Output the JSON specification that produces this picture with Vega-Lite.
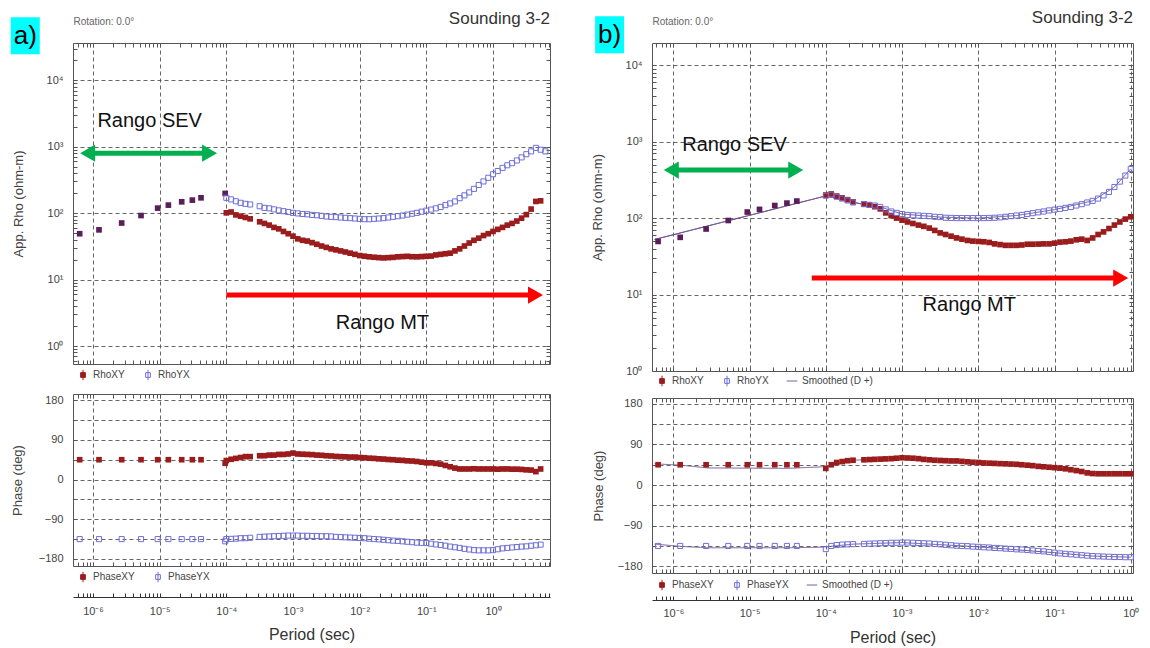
{
"$schema": "https://vega.github.io/schema/vega-lite/v6.json",
"background": "white",
"padding": {"left": 10, "top": 8, "right": 5, "bottom": 0},
"config": {
 "font": "Liberation Sans",
 "view": {"stroke": "#555", "strokeWidth": 1},
 "axis": {"domain": false, "tickSize": -4, "tickColor": "#555", "gridColor": "#555", "gridDash": [4, 3], "gridWidth": 0.9, "labelFontSize": 11, "labelColor": "#444", "titleFontWeight": "normal", "titleColor": "#444", "labelOverlap": false, "labelFlush": false, "labelBound": false},
 "legend": {"labelFontSize": 10, "labelColor": "#444", "symbolStrokeWidth": 1, "labelOffset": 4, "symbolSize": 110},
 "title": {"fontWeight": "normal"}
},
"datasets": {
 "sevA": [
  {"t": 6.31e-7, "r": 49, "px": 45, "py": -135},
  {"t": 1.23e-6, "r": 56, "px": 45, "py": -135},
  {"t": 2.69e-6, "r": 71, "px": 45, "py": -135},
  {"t": 5.25e-6, "r": 92, "px": 45, "py": -135},
  {"t": 9.33e-6, "r": 119, "px": 45, "py": -135},
  {"t": 1.35e-5, "r": 132, "px": 45, "py": -135},
  {"t": 2.14e-5, "r": 148, "px": 45, "py": -135},
  {"t": 3.09e-5, "r": 157, "px": 45, "py": -135},
  {"t": 4.17e-5, "r": 170, "px": 45, "py": -135},
  {"t": 9.6e-5, "r": 198, "px": 37, "py": -140}
 ],
 "sevB": [
  {"t": 6.31e-7, "r": 49.5, "px": 45, "py": -135},
  {"t": 1.23e-6, "r": 56, "px": 45, "py": -135},
  {"t": 2.69e-6, "r": 72, "px": 45, "py": -135},
  {"t": 5.25e-6, "r": 93, "px": 45, "py": -135},
  {"t": 9.33e-6, "r": 120, "px": 45, "py": -135},
  {"t": 1.35e-5, "r": 130, "px": 45, "py": -135},
  {"t": 2.14e-5, "r": 146, "px": 45, "py": -135},
  {"t": 3.09e-5, "r": 157, "px": 45, "py": -135},
  {"t": 4.17e-5, "r": 167, "px": 45, "py": -135}
 ],
 "rhoA": [
  {"t": 1e-4, "xy": 101, "yx": 170}, {"t": 1.179e-4, "xy": 104, "yx": 161}, {"t": 1.389e-4, "xy": 94, "yx": 151}, {"t": 1.638e-4, "xy": 90, "yx": 143}, {"t": 1.931e-4, "xy": 86, "yx": 138}, {"t": 2.276e-4, "xy": 82, "yx": 135},
  {"t": 3.162e-4, "xy": 74, "yx": 127}, {"t": 3.728e-4, "xy": 70, "yx": 120}, {"t": 4.394e-4, "xy": 66, "yx": 118}, {"t": 5.179e-4, "xy": 61, "yx": 114}, {"t": 6.105e-4, "xy": 58, "yx": 110}, {"t": 7.197e-4, "xy": 53, "yx": 107}, {"t": 8.483e-4, "xy": 49, "yx": 104},
  {"t": 1e-3, "xy": 45, "yx": 101}, {"t": 1.179e-3, "xy": 41, "yx": 99}, {"t": 1.389e-3, "xy": 39, "yx": 97}, {"t": 1.638e-3, "xy": 38, "yx": 96}, {"t": 1.931e-3, "xy": 36, "yx": 94}, {"t": 2.276e-3, "xy": 34, "yx": 93}, {"t": 2.683e-3, "xy": 32, "yx": 91}, {"t": 3.162e-3, "xy": 30.5, "yx": 89}, {"t": 3.728e-3, "xy": 29, "yx": 88}, {"t": 4.394e-3, "xy": 28, "yx": 87}, {"t": 5.179e-3, "xy": 27, "yx": 86}, {"t": 6.105e-3, "xy": 26, "yx": 85}, {"t": 7.197e-3, "xy": 25, "yx": 84}, {"t": 8.483e-3, "xy": 24, "yx": 83},
  {"t": 0.01, "xy": 23, "yx": 82}, {"t": 0.01179, "xy": 22.5, "yx": 81}, {"t": 0.01389, "xy": 22, "yx": 81}, {"t": 0.01638, "xy": 21.7, "yx": 82}, {"t": 0.01931, "xy": 21.4, "yx": 83}, {"t": 0.02276, "xy": 21.2, "yx": 84}, {"t": 0.02683, "xy": 21.4, "yx": 86}, {"t": 0.03162, "xy": 21.6, "yx": 88}, {"t": 0.03728, "xy": 22, "yx": 90}, {"t": 0.04394, "xy": 22.2, "yx": 92}, {"t": 0.05179, "xy": 22.4, "yx": 95}, {"t": 0.06105, "xy": 22.1, "yx": 98}, {"t": 0.07197, "xy": 22, "yx": 101}, {"t": 0.08483, "xy": 22.2, "yx": 105},
  {"t": 0.1, "xy": 22.4, "yx": 109}, {"t": 0.1179, "xy": 22.6, "yx": 113}, {"t": 0.1389, "xy": 23.5, "yx": 118}, {"t": 0.1638, "xy": 24, "yx": 124}, {"t": 0.1931, "xy": 24.5, "yx": 132}, {"t": 0.2276, "xy": 25, "yx": 140}, {"t": 0.2683, "xy": 27, "yx": 150}, {"t": 0.3162, "xy": 29, "yx": 168}, {"t": 0.3728, "xy": 32, "yx": 185}, {"t": 0.4394, "xy": 35.5, "yx": 205}, {"t": 0.5179, "xy": 39, "yx": 232}, {"t": 0.6105, "xy": 42, "yx": 265}, {"t": 0.7197, "xy": 46, "yx": 300}, {"t": 0.8483, "xy": 49, "yx": 340},
  {"t": 1, "xy": 53, "yx": 385}, {"t": 1.179, "xy": 57, "yx": 430}, {"t": 1.389, "xy": 61, "yx": 480}, {"t": 1.638, "xy": 66, "yx": 525}, {"t": 1.931, "xy": 70, "yx": 565}, {"t": 2.276, "xy": 76, "yx": 620}, {"t": 2.683, "xy": 84, "yx": 690}, {"t": 3.162, "xy": 95, "yx": 770}, {"t": 3.728, "xy": 115, "yx": 850}, {"t": 4.394, "xy": 150, "yx": 960}, {"t": 5.179, "xy": 153, "yx": 900}, {"t": 6.105, "xy": null, "yx": 850}
 ],
 "phA": [
  {"t": 1e-4, "xy": 43, "yx": -135}, {"t": 1.179e-4, "xy": 46, "yx": -134.5}, {"t": 1.389e-4, "xy": 48, "yx": -134}, {"t": 1.638e-4, "xy": 50, "yx": -133}, {"t": 1.931e-4, "xy": 52, "yx": -133}, {"t": 2.276e-4, "xy": 52, "yx": -132},
  {"t": 3.162e-4, "xy": 54, "yx": -130}, {"t": 3.728e-4, "xy": 54, "yx": -129.5}, {"t": 4.394e-4, "xy": 55.5, "yx": -129}, {"t": 5.179e-4, "xy": 55.5, "yx": -128.5}, {"t": 6.105e-4, "xy": 57, "yx": -128}, {"t": 7.197e-4, "xy": 57, "yx": -127.5}, {"t": 8.483e-4, "xy": 58, "yx": -127},
  {"t": 1e-3, "xy": 60, "yx": -127}, {"t": 1.179e-3, "xy": 58, "yx": -127}, {"t": 1.389e-3, "xy": 57.5, "yx": -127.5}, {"t": 1.638e-3, "xy": 57, "yx": -127.5}, {"t": 1.931e-3, "xy": 56.5, "yx": -128}, {"t": 2.276e-3, "xy": 55.5, "yx": -128}, {"t": 2.683e-3, "xy": 55, "yx": -128.5}, {"t": 3.162e-3, "xy": 54, "yx": -128.5}, {"t": 3.728e-3, "xy": 53.5, "yx": -129}, {"t": 4.394e-3, "xy": 52.5, "yx": -130}, {"t": 5.179e-3, "xy": 52, "yx": -130.5}, {"t": 6.105e-3, "xy": 51.5, "yx": -131}, {"t": 7.197e-3, "xy": 51, "yx": -131.5}, {"t": 8.483e-3, "xy": 51, "yx": -132},
  {"t": 0.01, "xy": 50, "yx": -132.5}, {"t": 0.01179, "xy": 49.5, "yx": -133}, {"t": 0.01389, "xy": 48.5, "yx": -134}, {"t": 0.01638, "xy": 48, "yx": -135}, {"t": 0.01931, "xy": 47, "yx": -135.5}, {"t": 0.02276, "xy": 46.5, "yx": -136.5}, {"t": 0.02683, "xy": 45.5, "yx": -137.5}, {"t": 0.03162, "xy": 45, "yx": -138.5}, {"t": 0.03728, "xy": 44, "yx": -139}, {"t": 0.04394, "xy": 43.5, "yx": -140}, {"t": 0.05179, "xy": 42.5, "yx": -141}, {"t": 0.06105, "xy": 42, "yx": -142}, {"t": 0.07197, "xy": 41, "yx": -143}, {"t": 0.08483, "xy": 39.5, "yx": -143.5},
  {"t": 0.1, "xy": 38, "yx": -144}, {"t": 0.1179, "xy": 38, "yx": -145.5}, {"t": 0.1389, "xy": 36.5, "yx": -147}, {"t": 0.1638, "xy": 35, "yx": -148.5}, {"t": 0.1931, "xy": 32, "yx": -150}, {"t": 0.2276, "xy": 29, "yx": -152}, {"t": 0.2683, "xy": 26, "yx": -153.5}, {"t": 0.3162, "xy": 24, "yx": -155}, {"t": 0.3728, "xy": 24, "yx": -157}, {"t": 0.4394, "xy": 24, "yx": -158.5}, {"t": 0.5179, "xy": 24.5, "yx": -160}, {"t": 0.6105, "xy": 24, "yx": -160.5}, {"t": 0.7197, "xy": 24, "yx": -160.5}, {"t": 0.8483, "xy": 24, "yx": -160.5},
  {"t": 1, "xy": 24, "yx": -160}, {"t": 1.179, "xy": 23.5, "yx": -158}, {"t": 1.389, "xy": 24, "yx": -156}, {"t": 1.638, "xy": 24, "yx": -155}, {"t": 1.931, "xy": 23.5, "yx": -154}, {"t": 2.276, "xy": 23.5, "yx": -153}, {"t": 2.683, "xy": 23, "yx": -152}, {"t": 3.162, "xy": 22, "yx": -151.5}, {"t": 3.728, "xy": 21.5, "yx": -150}, {"t": 4.394, "xy": 18, "yx": -149}, {"t": 5.179, "xy": 24, "yx": -147.5}
 ],
 "rhoB": [
  {"t": 1e-4, "xy": 200, "yx": 196}, {"t": 1.179e-4, "xy": 207, "yx": 203}, {"t": 1.389e-4, "xy": 194, "yx": 190}, {"t": 1.638e-4, "xy": 184, "yx": 180}, {"t": 1.931e-4, "xy": 174, "yx": 170}, {"t": 2.276e-4, "xy": 163, "yx": 160},
  {"t": 3.162e-4, "xy": 153, "yx": 152}, {"t": 3.728e-4, "xy": 148, "yx": 149}, {"t": 4.394e-4, "xy": 141, "yx": 146}, {"t": 5.179e-4, "xy": 132, "yx": 140}, {"t": 6.105e-4, "xy": 117, "yx": 130}, {"t": 7.197e-4, "xy": 108, "yx": 122}, {"t": 8.483e-4, "xy": 100, "yx": 117},
  {"t": 1e-3, "xy": 94, "yx": 113}, {"t": 1.179e-3, "xy": 89, "yx": 110}, {"t": 1.389e-3, "xy": 85, "yx": 109}, {"t": 1.638e-3, "xy": 81, "yx": 108}, {"t": 1.931e-3, "xy": 78, "yx": 107}, {"t": 2.276e-3, "xy": 74, "yx": 106}, {"t": 2.683e-3, "xy": 69, "yx": 104}, {"t": 3.162e-3, "xy": 64, "yx": 103}, {"t": 3.728e-3, "xy": 61, "yx": 101}, {"t": 4.394e-3, "xy": 58, "yx": 100.5}, {"t": 5.179e-3, "xy": 55, "yx": 100}, {"t": 6.105e-3, "xy": 53, "yx": 100}, {"t": 7.197e-3, "xy": 51, "yx": 100}, {"t": 8.483e-3, "xy": 50, "yx": 100},
  {"t": 0.01, "xy": 49.5, "yx": 100}, {"t": 0.01179, "xy": 49, "yx": 100}, {"t": 0.01389, "xy": 48, "yx": 100.5}, {"t": 0.01638, "xy": 46, "yx": 101}, {"t": 0.01931, "xy": 45, "yx": 102}, {"t": 0.02276, "xy": 44, "yx": 104}, {"t": 0.02683, "xy": 44, "yx": 106}, {"t": 0.03162, "xy": 44, "yx": 108}, {"t": 0.03728, "xy": 44.5, "yx": 110}, {"t": 0.04394, "xy": 45.5, "yx": 113}, {"t": 0.05179, "xy": 45.5, "yx": 116}, {"t": 0.06105, "xy": 45.7, "yx": 119}, {"t": 0.07197, "xy": 46, "yx": 122}, {"t": 0.08483, "xy": 46, "yx": 126},
  {"t": 0.1, "xy": 47, "yx": 129}, {"t": 0.1179, "xy": 48.5, "yx": 132}, {"t": 0.1389, "xy": 49, "yx": 136}, {"t": 0.1638, "xy": 50, "yx": 140}, {"t": 0.1931, "xy": 52, "yx": 146}, {"t": 0.2276, "xy": 53, "yx": 152}, {"t": 0.2683, "xy": 51, "yx": 160}, {"t": 0.3162, "xy": 55, "yx": 168}, {"t": 0.3728, "xy": 61, "yx": 180}, {"t": 0.4394, "xy": 66, "yx": 198}, {"t": 0.5179, "xy": 73, "yx": 220}, {"t": 0.6105, "xy": 81, "yx": 255}, {"t": 0.7197, "xy": 89, "yx": 300}, {"t": 0.8483, "xy": 97, "yx": 360},
  {"t": 1, "xy": 104, "yx": 440}
 ],
 "phB": [
  {"t": 1e-4, "xy": 37, "yx": -142}, {"t": 1.179e-4, "xy": 45, "yx": -135}, {"t": 1.389e-4, "xy": 50, "yx": -133}, {"t": 1.638e-4, "xy": 52, "yx": -132}, {"t": 1.931e-4, "xy": 54, "yx": -131.5}, {"t": 2.276e-4, "xy": 55, "yx": -131},
  {"t": 3.162e-4, "xy": 56, "yx": -130.5}, {"t": 3.728e-4, "xy": 56.5, "yx": -130}, {"t": 4.394e-4, "xy": 57, "yx": -129.5}, {"t": 5.179e-4, "xy": 57.5, "yx": -129}, {"t": 6.105e-4, "xy": 58, "yx": -128.5}, {"t": 7.197e-4, "xy": 58.5, "yx": -128}, {"t": 8.483e-4, "xy": 59.5, "yx": -128},
  {"t": 1e-3, "xy": 60.5, "yx": -127.5}, {"t": 1.179e-3, "xy": 60, "yx": -127.5}, {"t": 1.389e-3, "xy": 59.5, "yx": -128}, {"t": 1.638e-3, "xy": 58.5, "yx": -128.5}, {"t": 1.931e-3, "xy": 57, "yx": -129}, {"t": 2.276e-3, "xy": 56, "yx": -129.5}, {"t": 2.683e-3, "xy": 55, "yx": -130.5}, {"t": 3.162e-3, "xy": 54.5, "yx": -131.5}, {"t": 3.728e-3, "xy": 54, "yx": -132.5}, {"t": 4.394e-3, "xy": 53.5, "yx": -133.5}, {"t": 5.179e-3, "xy": 53.5, "yx": -134.5}, {"t": 6.105e-3, "xy": 52.5, "yx": -135}, {"t": 7.197e-3, "xy": 51.5, "yx": -135.5}, {"t": 8.483e-3, "xy": 50.5, "yx": -136.5},
  {"t": 0.01, "xy": 50, "yx": -137}, {"t": 0.01179, "xy": 49, "yx": -138}, {"t": 0.01389, "xy": 48.5, "yx": -138.5}, {"t": 0.01638, "xy": 48, "yx": -139.5}, {"t": 0.01931, "xy": 47.5, "yx": -140}, {"t": 0.02276, "xy": 47, "yx": -141}, {"t": 0.02683, "xy": 46.5, "yx": -141.5}, {"t": 0.03162, "xy": 46, "yx": -142.5}, {"t": 0.03728, "xy": 45, "yx": -143}, {"t": 0.04394, "xy": 44, "yx": -144}, {"t": 0.05179, "xy": 43, "yx": -145}, {"t": 0.06105, "xy": 41.5, "yx": -146}, {"t": 0.07197, "xy": 40.5, "yx": -147}, {"t": 0.08483, "xy": 39.5, "yx": -148.5},
  {"t": 0.1, "xy": 38.5, "yx": -150}, {"t": 0.1179, "xy": 37.5, "yx": -151.5}, {"t": 0.1389, "xy": 36, "yx": -152.5}, {"t": 0.1638, "xy": 34, "yx": -153.5}, {"t": 0.1931, "xy": 32, "yx": -154.5}, {"t": 0.2276, "xy": 30, "yx": -155.5}, {"t": 0.2683, "xy": 27, "yx": -156.5}, {"t": 0.3162, "xy": 25.5, "yx": -157.5}, {"t": 0.3728, "xy": 25, "yx": -158}, {"t": 0.4394, "xy": 25, "yx": -158.5}, {"t": 0.5179, "xy": 25, "yx": -159}, {"t": 0.6105, "xy": 25, "yx": -159.5}, {"t": 0.7197, "xy": 25, "yx": -159.5}, {"t": 0.8483, "xy": 25, "yx": -160},
  {"t": 1, "xy": 25, "yx": -160}
 ],
 "smRB": [
  {"t": 5.68e-7, "xy": 52.5, "yx": 52.5}, {"t": 1e-4, "xy": 195, "yx": 195}, {"t": 2.276e-4, "xy": 163, "yx": 160}, {"t": 5.179e-4, "xy": 132, "yx": 140}, {"t": 1e-3, "xy": 94, "yx": 113}, {"t": 3.162e-3, "xy": 64, "yx": 103}, {"t": 0.01, "xy": 49.5, "yx": 100}, {"t": 0.03162, "xy": 44, "yx": 108}, {"t": 0.1, "xy": 47, "yx": 129}, {"t": 0.3162, "xy": 54, "yx": 168}, {"t": 0.6105, "xy": 81, "yx": 255}, {"t": 1, "xy": 104, "yx": 440}
 ],
 "smPB": [
  {"t": 5.68e-7, "xy": 47, "yx": -131}, {"t": 1.26e-6, "xy": 44, "yx": -136}, {"t": 2.82e-6, "xy": 38, "yx": -139}, {"t": 3.16e-5, "xy": 37, "yx": -139}, {"t": 7.94e-5, "xy": 40, "yx": -138}, {"t": 1e-4, "xy": 41, "yx": -137}, {"t": 2.276e-4, "xy": 55, "yx": -131}, {"t": 1e-3, "xy": 60, "yx": -127.5}, {"t": 0.01, "xy": 50, "yx": -137}, {"t": 0.1, "xy": 38.5, "yx": -150}, {"t": 0.3162, "xy": 25.5, "yx": -157.5}, {"t": 1, "xy": 25, "yx": -160}
 ],
 "annA": [
  {"lab": "Rango SEV", "t1": 8.3e-7, "t2": 5.6e-5, "r": 798, "tx": 7.08e-6, "ty": 2415},
  {"lab": "Rango MT", "t1": 1.0e-4, "t2": 4.34, "r": 5.85, "tx": 0.0219, "ty": 2.24}
 ],
 "annB": [
  {"lab": "Rango SEV", "t1": 9.4e-7, "t2": 4.03e-5, "r": 424, "tx": 6.35e-6, "ty": 900},
  {"lab": "Rango MT", "t1": 6.55e-5, "t2": 0.738, "r": 16.4, "tx": 7.62e-3, "ty": 7.36}
 ],
 "tagA": [{"lab": "a)", "x1": 5.83e-8, "x2": 1.59e-7, "y1": 88500, "y2": 24600, "tx": 9.64e-8, "ty": 46670}],
 "tagB": [{"lab": "b)", "x1": 9.42e-8, "x2": 2.26e-7, "y1": 43650, "y2": 14350, "tx": 1.46e-7, "ty": 25060}]
},
"hconcat": [
 {
  "vconcat": [
   {
    "width": 477, "height": 321,
    "title": {"text": "Sounding 3-2", "anchor": "end", "fontSize": 17, "color": "#333", "offset": -11, "frame": "group"},
    "resolve": {"axis": {"x": "independent", "y": "independent"}},
    "layer": [
     {"data": {"name": "sevA"}, "mark": {"type": "point", "shape": "square", "filled": true, "size": 32, "opacity": 1},
      "encoding": {"x": {"field": "t", "type": "quantitative", "axis": null}, "y": {"field": "r", "type": "quantitative", "axis": null}, "fill": {"datum": "SEV"}}},
     {"data": {"name": "rhoA"}, "mark": {"type": "point", "shape": "square", "filled": true, "size": 32, "opacity": 1},
      "encoding": {
       "x": {"field": "t", "type": "quantitative", "scale": {"type": "log", "domain": [5.01e-7, 7.16], "nice": false},
        "axis": {"orient": "bottom", "values": [6e-7,7e-7,8e-7,9e-7,1e-6,2e-6,3e-6,4e-6,5e-6,6e-6,7e-6,8e-6,9e-6,1e-5,2e-5,3e-5,4e-5,5e-5,6e-5,7e-5,8e-5,9e-5,1e-4,2e-4,3e-4,4e-4,5e-4,6e-4,7e-4,8e-4,9e-4,0.001,0.002,0.003,0.004,0.005,0.006,0.007,0.008,0.009,0.01,0.02,0.03,0.04,0.05,0.06,0.07,0.08,0.09,0.1,0.2,0.3,0.4,0.5,0.6,0.7,0.8,0.9,1,2,3,4,5,6,7], "labels": false, "grid": true, "gridOpacity": {"condition": {"test": "abs(log(datum.value)/LN10-round(log(datum.value)/LN10))<0.001", "value": 1}, "value": 0}, "title": null}},
       "y": {"field": "xy", "type": "quantitative", "scale": {"type": "log", "domain": [0.537, 36300], "nice": false},
        "axis": {"orient": "left", "values": [0.6,0.7,0.8,0.9,1,2,3,4,5,6,7,8,9,10,20,30,40,50,60,70,80,90,100,200,300,400,500,600,700,800,900,1000,2000,3000,4000,5000,6000,7000,8000,9000,10000,20000,30000], "labelExpr": "abs(log(datum.value)/LN10-round(log(datum.value)/LN10))<0.001 ? '10' + ['⁻⁶','⁻⁵','⁻⁴','⁻³','⁻²','⁻¹','⁰','¹','²','³','⁴'][round(log(datum.value)/LN10)+6] : ''", "grid": true, "gridOpacity": {"condition": {"test": "abs(log(datum.value)/LN10-round(log(datum.value)/LN10))<0.001", "value": 1}, "value": 0}, "labelPadding": 14, "title": "App. Rho (ohm-m)", "titleFontSize": 13, "titlePadding": 21}},
       "fill": {"datum": "RhoXY", "scale": {"domain": ["RhoXY", "SEV"], "range": ["#9b1c1c", "#5a1e5a"]},
        "legend": {"orient": "none", "legendX": 4, "legendY": 326, "title": null, "values": ["RhoXY"], "symbolType": "M-0.45,-0.45H0.45V0.45H-0.45Z M0,-1V1", "symbolStrokeColor": "#9b1c1c"}}
      }},
     {"data": {"name": "rhoA"}, "mark": {"type": "point", "shape": "square", "filled": false, "size": 26, "strokeWidth": 1, "opacity": 1},
      "encoding": {
       "x": {"field": "t", "type": "quantitative", "axis": {"orient": "top", "values": [6e-7,7e-7,8e-7,9e-7,1e-6,2e-6,3e-6,4e-6,5e-6,6e-6,7e-6,8e-6,9e-6,1e-5,2e-5,3e-5,4e-5,5e-5,6e-5,7e-5,8e-5,9e-5,1e-4,2e-4,3e-4,4e-4,5e-4,6e-4,7e-4,8e-4,9e-4,0.001,0.002,0.003,0.004,0.005,0.006,0.007,0.008,0.009,0.01,0.02,0.03,0.04,0.05,0.06,0.07,0.08,0.09,0.1,0.2,0.3,0.4,0.5,0.6,0.7,0.8,0.9,1,2,3,4,5,6,7], "labels": false, "grid": false, "title": "Rotation: 0.0°", "titleAnchor": "start", "titleAlign": "left", "titleFontSize": 10, "titleColor": "#666", "titlePadding": 16}},
       "y": {"field": "yx", "type": "quantitative", "axis": {"orient": "right", "values": [0.6,0.7,0.8,0.9,1,2,3,4,5,6,7,8,9,10,20,30,40,50,60,70,80,90,100,200,300,400,500,600,700,800,900,1000,2000,3000,4000,5000,6000,7000,8000,9000,10000,20000,30000], "labels": false, "grid": false, "title": null}},
       "stroke": {"datum": "RhoYX", "scale": {"domain": ["RhoYX"], "range": ["#6f6fd8"]},
        "legend": {"orient": "none", "legendX": 69, "legendY": 326, "title": null, "values": ["RhoYX"], "symbolType": "M-0.45,-0.45H0.45V0.45H-0.45Z M0,-1V1"}}}},
     {"data": {"name": "annA"}, "transform": [{"filter": "datum.lab === 'Rango SEV'"}], "mark": {"type": "rule", "color": "#00b050", "strokeWidth": 5},
      "encoding": {"x": {"field": "t1", "type": "quantitative", "axis": null}, "x2": {"field": "t2"}, "y": {"field": "r", "type": "quantitative", "axis": null}}},
     {"data": {"name": "annA"}, "transform": [{"filter": "datum.lab === 'Rango MT'"}], "mark": {"type": "rule", "color": "#ff0000", "strokeWidth": 5},
      "encoding": {"x": {"field": "t1", "type": "quantitative", "axis": null}, "x2": {"field": "t2"}, "y": {"field": "r", "type": "quantitative", "axis": null}}},
     {"data": {"name": "annA"}, "transform": [{"filter": "datum.lab === 'Rango SEV'"}], "mark": {"type": "point", "shape": "triangle-left", "filled": true, "size": 300, "color": "#00b050", "opacity": 1},
      "encoding": {"x": {"field": "t1", "type": "quantitative", "axis": null}, "y": {"field": "r", "type": "quantitative", "axis": null}}},
     {"data": {"name": "annA"}, "transform": [{"filter": "datum.lab === 'Rango SEV'"}], "mark": {"type": "point", "shape": "triangle-right", "filled": true, "size": 300, "color": "#00b050", "opacity": 1},
      "encoding": {"x": {"field": "t2", "type": "quantitative", "axis": null}, "y": {"field": "r", "type": "quantitative", "axis": null}}},
     {"data": {"name": "annA"}, "transform": [{"filter": "datum.lab === 'Rango MT'"}], "mark": {"type": "point", "shape": "triangle-right", "filled": true, "size": 300, "color": "#ff0000", "opacity": 1},
      "encoding": {"x": {"field": "t2", "type": "quantitative", "axis": null}, "y": {"field": "r", "type": "quantitative", "axis": null}}},
     {"data": {"name": "annA"}, "mark": {"type": "text", "fontSize": 20, "color": "#111"},
      "encoding": {"x": {"field": "tx", "type": "quantitative", "axis": null}, "y": {"field": "ty", "type": "quantitative", "axis": null}, "text": {"field": "lab"}}},
     {"data": {"name": "tagA"}, "mark": {"type": "rect", "color": "#00ffff"},
      "encoding": {"x": {"field": "x1", "type": "quantitative", "axis": null}, "x2": {"field": "x2"}, "y": {"field": "y1", "type": "quantitative", "axis": null}, "y2": {"field": "y2"}}},
     {"data": {"name": "tagA"}, "mark": {"type": "text", "fontSize": 26, "color": "#000"},
      "encoding": {"x": {"field": "tx", "type": "quantitative", "axis": null}, "y": {"field": "ty", "type": "quantitative", "axis": null}, "text": {"field": "lab"}}}
    ]
   },
   {
    "width": 477, "height": 172,
    "resolve": {"axis": {"x": "independent", "y": "independent"}},
    "layer": [
     {"data": {"name": "phA"}, "mark": {"type": "point", "shape": "square", "filled": true, "size": 32, "opacity": 1},
      "encoding": {
       "x": {"field": "t", "type": "quantitative", "scale": {"type": "log", "domain": [5.01e-7, 7.16], "nice": false},
        "axis": {"orient": "bottom", "offset": 31, "values": [6e-7,7e-7,8e-7,9e-7,1e-6,2e-6,3e-6,4e-6,5e-6,6e-6,7e-6,8e-6,9e-6,1e-5,2e-5,3e-5,4e-5,5e-5,6e-5,7e-5,8e-5,9e-5,1e-4,2e-4,3e-4,4e-4,5e-4,6e-4,7e-4,8e-4,9e-4,0.001,0.002,0.003,0.004,0.005,0.006,0.007,0.008,0.009,0.01,0.02,0.03,0.04,0.05,0.06,0.07,0.08,0.09,0.1,0.2,0.3,0.4,0.5,0.6,0.7,0.8,0.9,1,2,3,4,5,6,7], "labelExpr": "abs(log(datum.value)/LN10-round(log(datum.value)/LN10))<0.001 ? '10' + ['⁻⁶','⁻⁵','⁻⁴','⁻³','⁻²','⁻¹','⁰','¹','²','³','⁴'][round(log(datum.value)/LN10)+6] : ''", "domain": true, "domainColor": "#333", "tickColor": "#333", "grid": false, "labelPadding": 12, "title": "Period (sec)", "titleFontSize": 16, "titleColor": "#333", "titlePadding": 10}},
       "y": {"field": "xy", "type": "quantitative", "scale": {"domain": [-196, 194], "nice": false, "zero": false},
        "axis": {"orient": "left", "values": [-180,-135,-90,-45,0,45,90,135,180], "labelExpr": "datum.value % 90 === 0 ? datum.label : ''", "grid": true, "labelPadding": 14, "title": "Phase (deg)", "titleFontSize": 13, "titlePadding": 14}},
       "fill": {"datum": "PhaseXY", "scale": {"domain": ["PhaseXY"], "range": ["#9b1c1c"]},
        "legend": {"orient": "none", "legendX": 4, "legendY": 177, "title": null, "values": ["PhaseXY"], "symbolType": "M-0.45,-0.45H0.45V0.45H-0.45Z M0,-1V1", "symbolStrokeColor": "#9b1c1c"}}
      }},
     {"data": {"name": "phA"}, "mark": {"type": "point", "shape": "square", "filled": false, "size": 26, "strokeWidth": 1, "opacity": 1},
      "encoding": {
       "x": {"field": "t", "type": "quantitative", "axis": {"orient": "top", "values": [6e-7,7e-7,8e-7,9e-7,1e-6,2e-6,3e-6,4e-6,5e-6,6e-6,7e-6,8e-6,9e-6,1e-5,2e-5,3e-5,4e-5,5e-5,6e-5,7e-5,8e-5,9e-5,1e-4,2e-4,3e-4,4e-4,5e-4,6e-4,7e-4,8e-4,9e-4,0.001,0.002,0.003,0.004,0.005,0.006,0.007,0.008,0.009,0.01,0.02,0.03,0.04,0.05,0.06,0.07,0.08,0.09,0.1,0.2,0.3,0.4,0.5,0.6,0.7,0.8,0.9,1,2,3,4,5,6,7], "labels": false, "grid": false, "title": null}},
       "y": {"field": "yx", "type": "quantitative", "axis": {"orient": "right", "values": [-180,-135,-90,-45,0,45,90,135,180], "labels": false, "grid": false, "title": null}},
       "stroke": {"datum": "PhaseYX", "scale": {"domain": ["PhaseYX"], "range": ["#6f6fd8"]},
        "legend": {"orient": "none", "legendX": 79, "legendY": 177, "title": null, "values": ["PhaseYX"], "symbolType": "M-0.45,-0.45H0.45V0.45H-0.45Z M0,-1V1"}}}},
     {"data": {"name": "sevA"}, "mark": {"type": "point", "shape": "square", "filled": true, "size": 32, "opacity": 1},
      "encoding": {
       "x": {"field": "t", "type": "quantitative", "axis": {"orient": "bottom", "values": [6e-7,7e-7,8e-7,9e-7,1e-6,2e-6,3e-6,4e-6,5e-6,6e-6,7e-6,8e-6,9e-6,1e-5,2e-5,3e-5,4e-5,5e-5,6e-5,7e-5,8e-5,9e-5,1e-4,2e-4,3e-4,4e-4,5e-4,6e-4,7e-4,8e-4,9e-4,0.001,0.002,0.003,0.004,0.005,0.006,0.007,0.008,0.009,0.01,0.02,0.03,0.04,0.05,0.06,0.07,0.08,0.09,0.1,0.2,0.3,0.4,0.5,0.6,0.7,0.8,0.9,1,2,3,4,5,6,7], "labels": false, "grid": true, "gridOpacity": {"condition": {"test": "abs(log(datum.value)/LN10-round(log(datum.value)/LN10))<0.001", "value": 1}, "value": 0}, "title": null}},
       "y": {"field": "px", "type": "quantitative", "axis": null},
       "fill": {"datum": "PhaseXY"}}},
     {"data": {"name": "sevA"}, "mark": {"type": "point", "shape": "square", "filled": false, "size": 26, "strokeWidth": 1, "opacity": 1},
      "encoding": {"x": {"field": "t", "type": "quantitative", "axis": null}, "y": {"field": "py", "type": "quantitative", "axis": null}, "stroke": {"datum": "PhaseYX"}}}
    ]
   }
  ],
  "spacing": 9,
  "resolve": {"scale": {"fill": "independent", "stroke": "independent", "strokeDash": "independent"}}
 },
 {
  "vconcat": [
   {
    "width": 481, "height": 328,
    "title": {"text": "Sounding 3-2", "anchor": "end", "fontSize": 17, "color": "#333", "offset": -11, "frame": "group"},
    "resolve": {"axis": {"x": "independent", "y": "independent"}},
    "layer": [
     {"data": {"name": "smRB"}, "mark": {"type": "line", "strokeWidth": 1, "color": "#70508f"},
      "encoding": {"x": {"field": "t", "type": "quantitative", "axis": null}, "y": {"field": "xy", "type": "quantitative", "axis": null},
       "strokeDash": {"datum": "Smoothed (D +)", "scale": {"domain": ["Smoothed (D +)"], "range": [[1, 0]]},
        "legend": {"orient": "none", "legendX": 134, "legendY": 332, "title": null, "values": ["Smoothed (D +)"], "symbolType": "stroke", "symbolStrokeColor": "#555"}}}},
     {"data": {"name": "smRB"}, "mark": {"type": "line", "strokeWidth": 1, "color": "#70508f"},
      "encoding": {"x": {"field": "t", "type": "quantitative", "axis": null}, "y": {"field": "yx", "type": "quantitative", "axis": null}, "strokeDash": {"datum": "Smoothed (D +)"}}},
     {"data": {"name": "sevB"}, "mark": {"type": "point", "shape": "square", "filled": true, "size": 32, "opacity": 1},
      "encoding": {"x": {"field": "t", "type": "quantitative", "axis": null}, "y": {"field": "r", "type": "quantitative", "axis": null}, "fill": {"datum": "SEV"}}},
     {"data": {"name": "rhoB"}, "mark": {"type": "point", "shape": "square", "filled": true, "size": 32, "opacity": 1},
      "encoding": {
       "x": {"field": "t", "type": "quantitative", "scale": {"type": "log", "domain": [5.25e-7, 1.07], "nice": false},
        "axis": {"orient": "bottom", "values": [6e-7,7e-7,8e-7,9e-7,1e-6,2e-6,3e-6,4e-6,5e-6,6e-6,7e-6,8e-6,9e-6,1e-5,2e-5,3e-5,4e-5,5e-5,6e-5,7e-5,8e-5,9e-5,1e-4,2e-4,3e-4,4e-4,5e-4,6e-4,7e-4,8e-4,9e-4,0.001,0.002,0.003,0.004,0.005,0.006,0.007,0.008,0.009,0.01,0.02,0.03,0.04,0.05,0.06,0.07,0.08,0.09,0.1,0.2,0.3,0.4,0.5,0.6,0.7,0.8,0.9,1], "labels": false, "grid": true, "gridOpacity": {"condition": {"test": "abs(log(datum.value)/LN10-round(log(datum.value)/LN10))<0.001", "value": 1}, "value": 0}, "title": null}},
       "y": {"field": "xy", "type": "quantitative", "scale": {"type": "log", "domain": [1, 19500], "nice": false},
        "axis": {"orient": "left", "values": [1,2,3,4,5,6,7,8,9,10,20,30,40,50,60,70,80,90,100,200,300,400,500,600,700,800,900,1000,2000,3000,4000,5000,6000,7000,8000,9000,10000], "labelExpr": "abs(log(datum.value)/LN10-round(log(datum.value)/LN10))<0.001 ? '10' + ['⁻⁶','⁻⁵','⁻⁴','⁻³','⁻²','⁻¹','⁰','¹','²','³','⁴'][round(log(datum.value)/LN10)+6] : ''", "grid": true, "gridOpacity": {"condition": {"test": "abs(log(datum.value)/LN10-round(log(datum.value)/LN10))<0.001", "value": 1}, "value": 0}, "labelPadding": 14, "title": "App. Rho (ohm-m)", "titleFontSize": 13, "titlePadding": 21}},
       "fill": {"datum": "RhoXY", "scale": {"domain": ["RhoXY", "SEV"], "range": ["#9b1c1c", "#5a1e5a"]},
        "legend": {"orient": "none", "legendX": 4, "legendY": 332, "title": null, "values": ["RhoXY"], "symbolType": "M-0.45,-0.45H0.45V0.45H-0.45Z M0,-1V1", "symbolStrokeColor": "#9b1c1c"}}
      }},
     {"data": {"name": "rhoB"}, "mark": {"type": "point", "shape": "square", "filled": false, "size": 26, "strokeWidth": 1, "opacity": 1},
      "encoding": {
       "x": {"field": "t", "type": "quantitative", "axis": {"orient": "top", "values": [6e-7,7e-7,8e-7,9e-7,1e-6,2e-6,3e-6,4e-6,5e-6,6e-6,7e-6,8e-6,9e-6,1e-5,2e-5,3e-5,4e-5,5e-5,6e-5,7e-5,8e-5,9e-5,1e-4,2e-4,3e-4,4e-4,5e-4,6e-4,7e-4,8e-4,9e-4,0.001,0.002,0.003,0.004,0.005,0.006,0.007,0.008,0.009,0.01,0.02,0.03,0.04,0.05,0.06,0.07,0.08,0.09,0.1,0.2,0.3,0.4,0.5,0.6,0.7,0.8,0.9,1], "labels": false, "grid": false, "title": "Rotation: 0.0°", "titleAnchor": "start", "titleAlign": "left", "titleFontSize": 10, "titleColor": "#666", "titlePadding": 16}},
       "y": {"field": "yx", "type": "quantitative", "axis": {"orient": "right", "values": [1,2,3,4,5,6,7,8,9,10,20,30,40,50,60,70,80,90,100,200,300,400,500,600,700,800,900,1000,2000,3000,4000,5000,6000,7000,8000,9000,10000], "labels": false, "grid": false, "title": null}},
       "stroke": {"datum": "RhoYX", "scale": {"domain": ["RhoYX"], "range": ["#6f6fd8"]},
        "legend": {"orient": "none", "legendX": 69, "legendY": 332, "title": null, "values": ["RhoYX"], "symbolType": "M-0.45,-0.45H0.45V0.45H-0.45Z M0,-1V1"}}}},
     {"data": {"name": "annB"}, "transform": [{"filter": "datum.lab === 'Rango SEV'"}], "mark": {"type": "rule", "color": "#00b050", "strokeWidth": 5},
      "encoding": {"x": {"field": "t1", "type": "quantitative", "axis": null}, "x2": {"field": "t2"}, "y": {"field": "r", "type": "quantitative", "axis": null}}},
     {"data": {"name": "annB"}, "transform": [{"filter": "datum.lab === 'Rango MT'"}], "mark": {"type": "rule", "color": "#ff0000", "strokeWidth": 5},
      "encoding": {"x": {"field": "t1", "type": "quantitative", "axis": null}, "x2": {"field": "t2"}, "y": {"field": "r", "type": "quantitative", "axis": null}}},
     {"data": {"name": "annB"}, "transform": [{"filter": "datum.lab === 'Rango SEV'"}], "mark": {"type": "point", "shape": "triangle-left", "filled": true, "size": 300, "color": "#00b050", "opacity": 1},
      "encoding": {"x": {"field": "t1", "type": "quantitative", "axis": null}, "y": {"field": "r", "type": "quantitative", "axis": null}}},
     {"data": {"name": "annB"}, "transform": [{"filter": "datum.lab === 'Rango SEV'"}], "mark": {"type": "point", "shape": "triangle-right", "filled": true, "size": 300, "color": "#00b050", "opacity": 1},
      "encoding": {"x": {"field": "t2", "type": "quantitative", "axis": null}, "y": {"field": "r", "type": "quantitative", "axis": null}}},
     {"data": {"name": "annB"}, "transform": [{"filter": "datum.lab === 'Rango MT'"}], "mark": {"type": "point", "shape": "triangle-right", "filled": true, "size": 300, "color": "#ff0000", "opacity": 1},
      "encoding": {"x": {"field": "t2", "type": "quantitative", "axis": null}, "y": {"field": "r", "type": "quantitative", "axis": null}}},
     {"data": {"name": "annB"}, "mark": {"type": "text", "fontSize": 20, "color": "#111"},
      "encoding": {"x": {"field": "tx", "type": "quantitative", "axis": null}, "y": {"field": "ty", "type": "quantitative", "axis": null}, "text": {"field": "lab"}}},
     {"data": {"name": "tagB"}, "mark": {"type": "rect", "color": "#00ffff"},
      "encoding": {"x": {"field": "x1", "type": "quantitative", "axis": null}, "x2": {"field": "x2"}, "y": {"field": "y1", "type": "quantitative", "axis": null}, "y2": {"field": "y2"}}},
     {"data": {"name": "tagB"}, "mark": {"type": "text", "fontSize": 26, "color": "#000"},
      "encoding": {"x": {"field": "tx", "type": "quantitative", "axis": null}, "y": {"field": "ty", "type": "quantitative", "axis": null}, "text": {"field": "lab"}}}
    ]
   },
   {
    "width": 481, "height": 175,
    "resolve": {"axis": {"x": "independent", "y": "independent"}},
    "layer": [
     {"data": {"name": "smPB"}, "mark": {"type": "line", "strokeWidth": 1, "color": "#70508f"},
      "encoding": {"x": {"field": "t", "type": "quantitative", "axis": null}, "y": {"field": "xy", "type": "quantitative", "axis": null},
       "strokeDash": {"datum": "Smoothed (D +)", "scale": {"domain": ["Smoothed (D +)"], "range": [[1, 0]]},
        "legend": {"orient": "none", "legendX": 154, "legendY": 181, "title": null, "values": ["Smoothed (D +)"], "symbolType": "stroke", "symbolStrokeColor": "#555"}}}},
     {"data": {"name": "smPB"}, "mark": {"type": "line", "strokeWidth": 1, "color": "#70508f"},
      "encoding": {"x": {"field": "t", "type": "quantitative", "axis": null}, "y": {"field": "yx", "type": "quantitative", "axis": null}, "strokeDash": {"datum": "Smoothed (D +)"}}},
     {"data": {"name": "phB"}, "mark": {"type": "point", "shape": "square", "filled": true, "size": 32, "opacity": 1},
      "encoding": {
       "x": {"field": "t", "type": "quantitative", "scale": {"type": "log", "domain": [5.25e-7, 1.07], "nice": false},
        "axis": {"orient": "bottom", "offset": 27, "values": [6e-7,7e-7,8e-7,9e-7,1e-6,2e-6,3e-6,4e-6,5e-6,6e-6,7e-6,8e-6,9e-6,1e-5,2e-5,3e-5,4e-5,5e-5,6e-5,7e-5,8e-5,9e-5,1e-4,2e-4,3e-4,4e-4,5e-4,6e-4,7e-4,8e-4,9e-4,0.001,0.002,0.003,0.004,0.005,0.006,0.007,0.008,0.009,0.01,0.02,0.03,0.04,0.05,0.06,0.07,0.08,0.09,0.1,0.2,0.3,0.4,0.5,0.6,0.7,0.8,0.9,1], "labelExpr": "abs(log(datum.value)/LN10-round(log(datum.value)/LN10))<0.001 ? '10' + ['⁻⁶','⁻⁵','⁻⁴','⁻³','⁻²','⁻¹','⁰','¹','²','³','⁴'][round(log(datum.value)/LN10)+6] : ''", "domain": true, "domainColor": "#333", "tickColor": "#333", "grid": false, "labelPadding": 11, "title": "Period (sec)", "titleFontSize": 16, "titleColor": "#333", "titlePadding": 11}},
       "y": {"field": "xy", "type": "quantitative", "scale": {"domain": [-195, 193], "nice": false, "zero": false},
        "axis": {"orient": "left", "values": [-180,-135,-90,-45,0,45,90,135,180], "labelExpr": "datum.value % 90 === 0 ? datum.label : ''", "grid": true, "labelPadding": 14, "title": "Phase (deg)", "titleFontSize": 13, "titlePadding": 12}},
       "fill": {"datum": "PhaseXY", "scale": {"domain": ["PhaseXY"], "range": ["#9b1c1c"]},
        "legend": {"orient": "none", "legendX": 4, "legendY": 181, "title": null, "values": ["PhaseXY"], "symbolType": "M-0.45,-0.45H0.45V0.45H-0.45Z M0,-1V1", "symbolStrokeColor": "#9b1c1c"}}
      }},
     {"data": {"name": "phB"}, "mark": {"type": "point", "shape": "square", "filled": false, "size": 26, "strokeWidth": 1, "opacity": 1},
      "encoding": {
       "x": {"field": "t", "type": "quantitative", "axis": {"orient": "top", "values": [6e-7,7e-7,8e-7,9e-7,1e-6,2e-6,3e-6,4e-6,5e-6,6e-6,7e-6,8e-6,9e-6,1e-5,2e-5,3e-5,4e-5,5e-5,6e-5,7e-5,8e-5,9e-5,1e-4,2e-4,3e-4,4e-4,5e-4,6e-4,7e-4,8e-4,9e-4,0.001,0.002,0.003,0.004,0.005,0.006,0.007,0.008,0.009,0.01,0.02,0.03,0.04,0.05,0.06,0.07,0.08,0.09,0.1,0.2,0.3,0.4,0.5,0.6,0.7,0.8,0.9,1], "labels": false, "grid": false, "title": null}},
       "y": {"field": "yx", "type": "quantitative", "axis": {"orient": "right", "values": [-180,-135,-90,-45,0,45,90,135,180], "labels": false, "grid": false, "title": null}},
       "stroke": {"datum": "PhaseYX", "scale": {"domain": ["PhaseYX"], "range": ["#6f6fd8"]},
        "legend": {"orient": "none", "legendX": 79, "legendY": 181, "title": null, "values": ["PhaseYX"], "symbolType": "M-0.45,-0.45H0.45V0.45H-0.45Z M0,-1V1"}}}},
     {"data": {"name": "sevB"}, "mark": {"type": "point", "shape": "square", "filled": true, "size": 32, "opacity": 1},
      "encoding": {
       "x": {"field": "t", "type": "quantitative", "axis": {"orient": "bottom", "values": [6e-7,7e-7,8e-7,9e-7,1e-6,2e-6,3e-6,4e-6,5e-6,6e-6,7e-6,8e-6,9e-6,1e-5,2e-5,3e-5,4e-5,5e-5,6e-5,7e-5,8e-5,9e-5,1e-4,2e-4,3e-4,4e-4,5e-4,6e-4,7e-4,8e-4,9e-4,0.001,0.002,0.003,0.004,0.005,0.006,0.007,0.008,0.009,0.01,0.02,0.03,0.04,0.05,0.06,0.07,0.08,0.09,0.1,0.2,0.3,0.4,0.5,0.6,0.7,0.8,0.9,1], "labels": false, "grid": true, "gridOpacity": {"condition": {"test": "abs(log(datum.value)/LN10-round(log(datum.value)/LN10))<0.001", "value": 1}, "value": 0}, "title": null}},
       "y": {"field": "px", "type": "quantitative", "axis": null},
       "fill": {"datum": "PhaseXY"}}},
     {"data": {"name": "sevB"}, "mark": {"type": "point", "shape": "square", "filled": false, "size": 26, "strokeWidth": 1, "opacity": 1},
      "encoding": {"x": {"field": "t", "type": "quantitative", "axis": null}, "y": {"field": "py", "type": "quantitative", "axis": null}, "stroke": {"datum": "PhaseYX"}}}
    ]
   }
  ],
  "spacing": 7,
  "resolve": {"scale": {"fill": "independent", "stroke": "independent", "strokeDash": "independent"}}
 }
],
"spacing": 39,
"resolve": {"scale": {"fill": "independent", "stroke": "independent", "strokeDash": "independent"}}
}
